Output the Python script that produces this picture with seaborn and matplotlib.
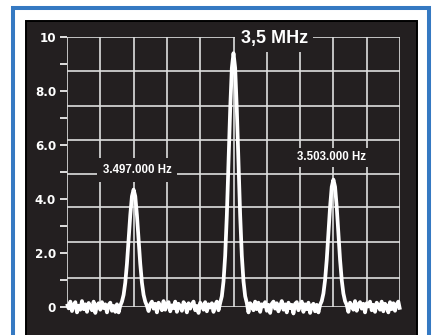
import numpy as np
import pandas as pd
import matplotlib
matplotlib.use("Agg")
import matplotlib.pyplot as plt
from matplotlib.patches import Rectangle
import seaborn as sns

# ---- data: spectrum trace, frequency offset from 3.5 MHz in kHz, step 0.05 kHz ----
freq_start, freq_stop, freq_step = -5.0, 5.0, 0.05

floor_a = [0.12, -0.05, 0.2, -0.15, 0.08, 0.18, -0.2, 0.05, -0.1, 0.22,
           -0.08, 0.1, -0.18, 0.15, 0.02, -0.12, 0.2, -0.22, 0.06, 0.14,
           -0.1, 0.18, -0.04, 0.1, -0.2, 0.08, 0.16, -0.14, 0.04, -0.18,
           0.1, -0.2]
peak_3497 = [0.05, 0.2, 0.45, 0.9, 1.6, 2.5, 3.4, 4.1, 4.35,
             4.1, 3.4, 2.5, 1.6, 0.9, 0.45, 0.2, 0.05]
floor_b = [-0.15, 0.1, 0.2, -0.06, 0.12, -0.2, 0.16, 0.04, -0.12, 0.22,
           -0.1, 0.08, 0.18, -0.16, 0.06, -0.04, 0.2, -0.18, 0.12, 0.02,
           -0.14, 0.18, 0.08, -0.2, 0.14, -0.06, 0.1, 0.2, -0.12, 0.04,
           -0.22, 0.16, 0.06, -0.1, 0.18, -0.16, 0.1, -0.02, 0.14, -0.18,
           0.08, 0.2, -0.12]
peak_3500 = [0.15, 0.4, 0.95, 1.9, 3.4, 5.3, 7.3, 8.85, 9.4,
             8.85, 7.3, 5.3, 3.4, 1.9, 0.95, 0.4, 0.15]
floor_c = [-0.2, 0.14, 0.06, -0.12, 0.2, -0.08, 0.16, -0.18, 0.1, 0.02,
           0.18, -0.14, 0.08, -0.22, 0.12, 0.2, -0.06, 0.14, -0.16, 0.04,
           0.22, -0.1, 0.1, -0.2, 0.16, -0.04, 0.08, -0.24, 0.12, 0.18,
           -0.12, 0.06, 0.2, -0.18, 0.1, -0.08, 0.16, -0.22, 0.04, 0.12,
           -0.16, 0.08, -0.2]
peak_3503 = [0.08, 0.22, 0.5, 1.0, 1.75, 2.7, 3.7, 4.45, 4.72,
             4.45, 3.7, 2.7, 1.75, 1.0, 0.5, 0.22, 0.08]
floor_d = [-0.18, 0.16, 0.04, -0.1, 0.22, -0.14, 0.1, 0.18, -0.06, 0.12,
           -0.2, 0.14, 0.02, 0.2, -0.12, 0.08, -0.18, 0.16, 0.06, -0.1,
           0.2, -0.16, 0.12, 0.04, -0.2, 0.18, -0.08, 0.14, -0.14, 0.1,
           0.2, -0.1]

y_tick_values = [0, 2, 4, 6, 8, 10]
y_tick_labels = ["0", "2.0", "4.0", "6.0", "8.0", "10"]
y_minor_values = [1, 3, 5, 7, 9]
h_grid_levels = [0, 1.07, 2.41, 3.70, 4.93, 6.19, 7.44, 8.74, 10]
v_grid_offsets = [-5, -4, -3, -2, -1, 0, 1, 2, 3, 4, 5]
title_text = "3,5 MHz"
marker_labels = ["3.497.000 Hz", "3.503.000 Hz"]

# ---- build table ----
levels = floor_a + peak_3497 + floor_b + peak_3500 + floor_c + peak_3503 + floor_d
freqs = np.round(np.arange(len(levels)) * freq_step + freq_start, 3)
df = pd.DataFrame({"freq": freqs, "level": levels})

# ---- figure ----
W, H = 432, 335
fig = plt.figure(figsize=(W / 100, H / 100), dpi=100)
fig.patch.set_facecolor("white")

BLUE = "#3579c2"
BG = "#231f20"

# blue frame
fig.add_artist(Rectangle((13 / W, -20 / H), 416 / W, 347 / H, transform=fig.transFigure,
                         facecolor="white", edgecolor=BLUE, linewidth=2.9, zorder=-3))
# black panel
fig.add_artist(Rectangle((26 / W, -20 / H), 391 / W, 334 / H, transform=fig.transFigure,
                         facecolor=BG, edgecolor="#000000", linewidth=1.4, zorder=-2))

ax = fig.add_axes([67 / W, 28 / H, 333 / W, 270 / H])
ax.set_zorder(1)
ax.set_facecolor("none")
for s in ax.spines.values():
    s.set_visible(False)

GRID = "#dedede"
for g in h_grid_levels:
    ax.axhline(g, color=GRID, linewidth=1.2, zorder=1)
for v in v_grid_offsets:
    ax.axvline(v, color=GRID, linewidth=1.2, zorder=1)

sns.lineplot(data=df, x="freq", y="level", ax=ax, color="white", linewidth=2.7,
             zorder=5, clip_on=False, solid_joinstyle="round", solid_capstyle="butt")

ax.set_xlim(-5, 5)
ax.set_ylim(0, 10)
ax.set_xticks([])
ax.set_xlabel("")
ax.set_ylabel("")
ax.set_yticks(y_tick_values)
ax.set_yticklabels(y_tick_labels, fontfamily="DejaVu Sans", fontweight="bold",
                   fontsize=8.6, color="white")
ax.set_yticks(y_minor_values, minor=True)
ax.tick_params(axis="y", which="both", direction="out", length=5, width=1.2,
               color="white", pad=2.8)

ax.text(1.22, 9.96, title_text, ha="center", va="center", color="white",
        fontfamily="Liberation Sans", fontweight="bold", fontsize=13,
        bbox=dict(boxstyle="square,pad=0.3", facecolor=BG, edgecolor="none"), zorder=6)
ax.text(-2.9, 5.07, marker_labels[0], ha="center", va="center", color="white",
        fontfamily="Liberation Sans", fontweight="bold", fontsize=8.3,
        bbox=dict(boxstyle="square,pad=0.5", facecolor=BG, edgecolor="none"), zorder=6)
ax.text(2.94, 5.54, marker_labels[1], ha="center", va="center", color="white",
        fontfamily="Liberation Sans", fontweight="bold", fontsize=8.3,
        bbox=dict(boxstyle="square,pad=0.3", facecolor=BG, edgecolor="none"), zorder=6)

fig.savefig("out.png", dpi=100)
